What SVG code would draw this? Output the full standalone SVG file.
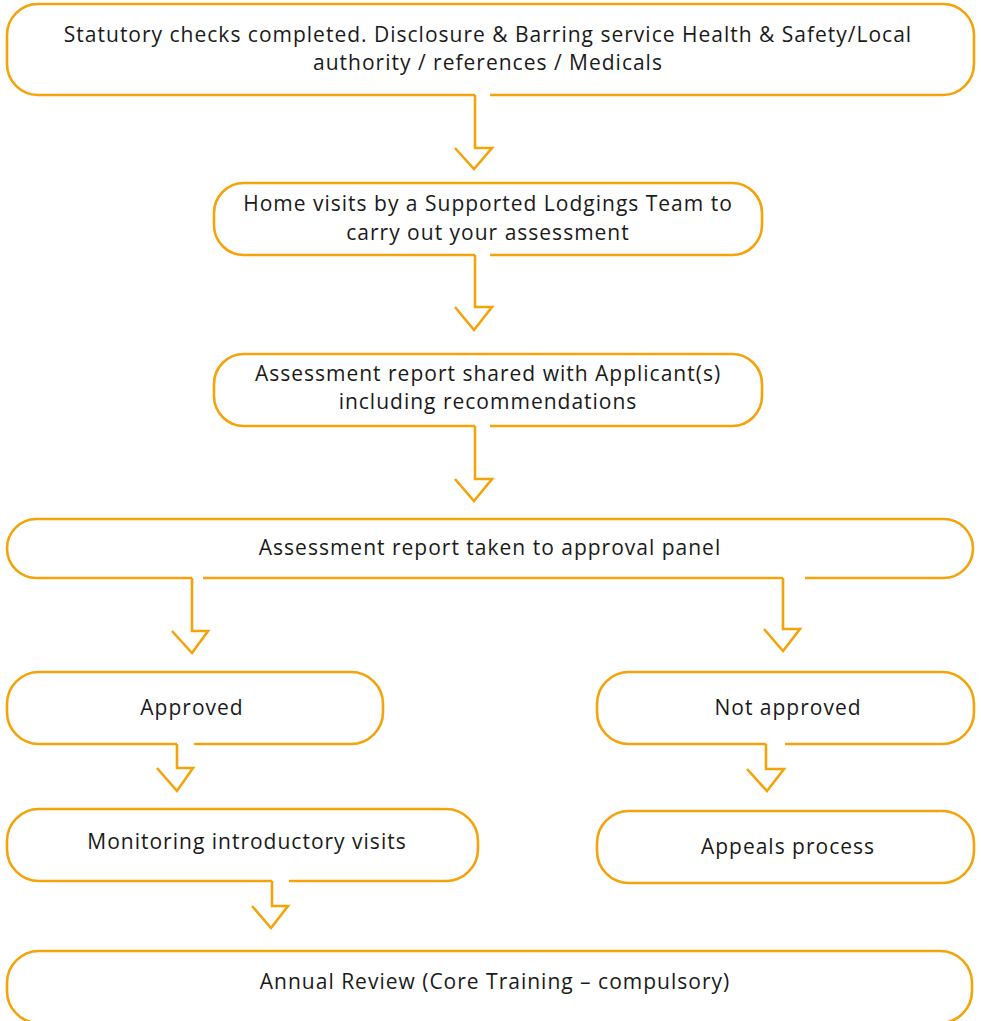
<svg xmlns="http://www.w3.org/2000/svg" width="981" height="1021" viewBox="0 0 981 1021">
<style>
.b{fill:none;stroke:#F5A30A;stroke-width:2.6}
.c{fill:none;stroke:#F5A30A;stroke-width:2.6;stroke-linejoin:miter}
text{font-family:"Open Sans","Liberation Sans",sans-serif;font-size:21px;letter-spacing:1px;fill:#1a1a1a;text-anchor:middle}
</style>
<rect width="981" height="1021" fill="#fff"/>
<g id="n1"><path class="b" d="M490,95 H943 A31,31 0 0 0 974,64 V35 A31,31 0 0 0 943,4 H38 A31,31 0 0 0 7,35 V64 A31,31 0 0 0 38,95 H475"/>
<text x="488" y="42">Statutory checks completed. Disclosure &amp; Barring service Health &amp; Safety/Local</text>
<text x="488" y="70">authority / references / Medicals</text></g>
<g id="n2"><path class="b" d="M490,255 H732 A30,30 0 0 0 762,225 V213 A30,30 0 0 0 732,183 H244 A30,30 0 0 0 214,213 V225 A30,30 0 0 0 244,255 H475"/>
<text x="488" y="211">Home visits by a Supported Lodgings Team to</text>
<text x="488" y="240">carry out your assessment</text></g>
<g id="n3"><path class="b" d="M490,426 H732 A30,30 0 0 0 762,396 V384 A30,30 0 0 0 732,354 H244 A30,30 0 0 0 214,384 V396 A30,30 0 0 0 244,426 H475"/>
<text x="488" y="381">Assessment report shared with Applicant(s)</text>
<text x="488" y="409">including recommendations</text></g>
<g id="n4"><path class="b" d="M203,578 H783 M805,578 H943.5 A29.5,29.5 0 0 0 973,548.5 A29.5,29.5 0 0 0 943.5,519 H36.5 A29.5,29.5 0 0 0 7,548.5 A29.5,29.5 0 0 0 36.5,578 H192"/>
<text x="490" y="555">Assessment report taken to approval panel</text></g>
<g id="n5"><path class="b" d="M194,744 H351 A32,32 0 0 0 383,712 V704 A32,32 0 0 0 351,672 H39 A32,32 0 0 0 7,704 V712 A32,32 0 0 0 39,744 H177"/>
<text x="192" y="715">Approved</text></g>
<g id="n6"><path class="b" d="M785,744 H942 A32,32 0 0 0 974,712 V704 A32,32 0 0 0 942,672 H629 A32,32 0 0 0 597,704 V712 A32,32 0 0 0 629,744 H766"/>
<text x="788" y="715">Not approved</text></g>
<g id="n7"><path class="b" d="M289,881 H446 A32,32 0 0 0 478,849 V841 A32,32 0 0 0 446,809 H39 A32,32 0 0 0 7,841 V849 A32,32 0 0 0 39,881 H272"/>
<text x="247" y="849">Monitoring introductory visits</text></g>
<g id="n8"><rect class="b" x="597" y="811" width="377" height="72" rx="32"/>
<text x="788" y="854">Appeals process</text></g>
<g id="n9"><rect class="b" x="7" y="951" width="965" height="72" rx="32"/>
<text x="495" y="989">Annual Review (Core Training – compulsory)</text></g>
<g id="connectors">
<path class="c" d="M475,95 V148 H492 L474,169 L455,148"/>
<path class="c" d="M475,255 V307 H492 L474,330 L455,307"/>
<path class="c" d="M475,426 V479 H492 L474,501 L455,479"/>
<path class="c" d="M192,578 V631 H208 L192,653 L172,631"/>
<path class="c" d="M783,578 V629 H800 L783,651 L764,629"/>
<path class="c" d="M177,744 V768 H193 L177,791 L157,768"/>
<path class="c" d="M766,744 V769 H784 L767,791 L747,769"/>
<path class="c" d="M272,881 V906 H288 L271,928 L252,906"/>
</g>
</svg>
